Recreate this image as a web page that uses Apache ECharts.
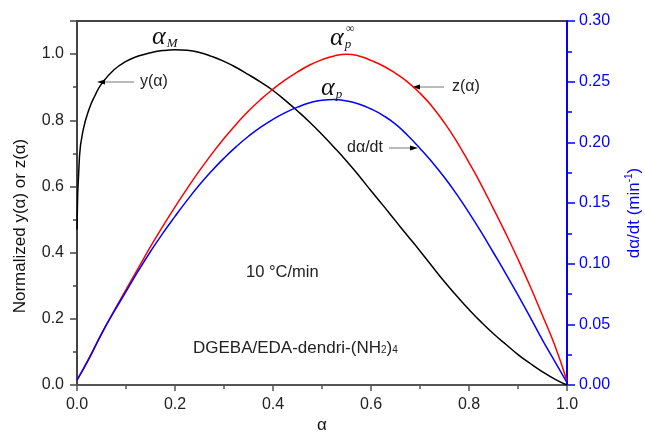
<!DOCTYPE html>
<html>
<head>
<meta charset="utf-8">
<script src="https://cdn.jsdelivr.net/npm/echarts@6/dist/echarts.min.js"></script>
<style>
  html, body { margin: 0; padding: 0; background: #fff; }
  #chart { width: 645px; height: 433px; }
</style>
</head>
<body>
<div id="chart"></div>
<script>
// Conversion alpha on the x axis
const xTicks = [0, 0.2, 0.4, 0.6, 0.8, 1.0];
const leftTicks = [0, 0.2, 0.4, 0.6, 0.8, 1.0];
const rightTicks = [0, 0.05, 0.10, 0.15, 0.20, 0.25, 0.30];

// y(alpha), normalized (left axis)
const yAlpha = [
  [0, 0.47], [0.005, 0.69], [0.0125, 0.77], [0.025, 0.835], [0.0375, 0.877],
  [0.05, 0.91], [0.075, 0.952], [0.1, 0.978], [0.125, 0.994], [0.15, 1.004],
  [0.175, 1.0105], [0.2, 1.013], [0.225, 1.0115], [0.25, 1.005], [0.275, 0.993],
  [0.3, 0.978], [0.325, 0.9595], [0.35, 0.938], [0.375, 0.915], [0.4, 0.89],
  [0.425, 0.86], [0.45, 0.828], [0.475, 0.794], [0.5, 0.757], [0.525, 0.718],
  [0.55, 0.677], [0.575, 0.633], [0.6, 0.587], [0.625, 0.542], [0.65, 0.496],
  [0.675, 0.4505], [0.7, 0.405], [0.725, 0.358], [0.75, 0.312], [0.775, 0.269],
  [0.8, 0.228], [0.825, 0.19], [0.85, 0.155], [0.875, 0.123], [0.9, 0.092],
  [0.925, 0.065], [0.95, 0.04], [0.975, 0.018], [1.0, 0]
];

// z(alpha), normalized (left axis)
const zAlpha = [
  [0, 0.015], [0.025, 0.083], [0.05, 0.155], [0.075, 0.2225], [0.1, 0.288],
  [0.125, 0.3534], [0.15, 0.418], [0.175, 0.4793], [0.2, 0.538], [0.225, 0.5943],
  [0.25, 0.648], [0.275, 0.6981], [0.3, 0.745], [0.325, 0.7883], [0.35, 0.828],
  [0.375, 0.863], [0.4, 0.894], [0.425, 0.9218], [0.45, 0.946], [0.475, 0.967],
  [0.5, 0.983], [0.525, 0.9945], [0.55, 0.9995], [0.575, 0.9945], [0.6, 0.981],
  [0.625, 0.964], [0.65, 0.942], [0.675, 0.9155], [0.7, 0.882], [0.725, 0.841],
  [0.75, 0.792], [0.775, 0.7355], [0.8, 0.672], [0.825, 0.605], [0.85, 0.532],
  [0.875, 0.458], [0.9, 0.38], [0.925, 0.2975], [0.95, 0.21], [0.975, 0.12],
  [1.0, 0.012]
];

// d(alpha)/dt in min^-1 (right axis)
const rate = [
  [0, 0.004], [0.025, 0.022], [0.05, 0.042], [0.075, 0.06], [0.1, 0.077],
  [0.125, 0.094], [0.15, 0.11], [0.175, 0.125], [0.2, 0.139], [0.225, 0.1524],
  [0.25, 0.165], [0.275, 0.1765], [0.3, 0.187], [0.325, 0.1965], [0.35, 0.205],
  [0.375, 0.2125], [0.4, 0.219], [0.425, 0.2245], [0.45, 0.229], [0.475, 0.2326],
  [0.5, 0.2347], [0.525, 0.2352], [0.55, 0.2341], [0.575, 0.2316], [0.6, 0.2275],
  [0.625, 0.2221], [0.65, 0.215], [0.675, 0.2056], [0.7, 0.195], [0.725, 0.1836],
  [0.75, 0.171], [0.775, 0.1571], [0.8, 0.142], [0.825, 0.126], [0.85, 0.109],
  [0.875, 0.0918], [0.9, 0.074], [0.925, 0.0557], [0.95, 0.037], [0.975, 0.0195],
  [1.0, 0.002]
];

const SANS = '"Liberation Sans", Arial, sans-serif';
const SERIF = '"Liberation Serif", "Times New Roman", serif';
const BLUE = '#0000ff';
const INK = '#222';

const chart = echarts.init(document.getElementById('chart'), null, { renderer: 'canvas' });

function arrow(x1, y1, x2, y2) {
  // shaft from (x1,y1) to the head at (x2,y2)
  const dir = Math.sign(x2 - x1);
  return {
    type: 'group',
    children: [
      { type: 'line', shape: { x1: x1, y1: y1, x2: x2 - dir * 6, y2: y2 },
        style: { stroke: '#777', lineWidth: 1 } },
      { type: 'polygon', shape: { points: [[x2, y2], [x2 - dir * 8, y2 - 2.5], [x2 - dir * 8, y2 + 2.5]] },
        style: { fill: '#000' } }
    ]
  };
}

function txt(x, y, text, extra) {
  return Object.assign({
    type: 'text', x: x, y: y,
    style: Object.assign({ text: text, font: '16px ' + SANS, fill: INK, align: 'left', verticalAlign: 'middle' },
      (extra && extra.style) || {})
  }, extra && extra.rotation !== undefined ? { rotation: extra.rotation } : {});
}

const greek = {
  a: { font: 'italic 26px ' + SERIF, fill: '#111' },
  s: { font: 'italic 13px ' + SERIF, fill: '#111', padding: [14, 0, 0, 1] }
};

const line = (name, data, axis, color) => ({
  name: name, type: 'line', yAxisIndex: axis, data: data, showSymbol: false,
  smooth: 0.5, lineStyle: { color: color, width: 1.5 }
});

const option = {
  animation: false,
  backgroundColor: '#fff',
  grid: { left: 77, right: 78, top: 21, bottom: 48, show: true, borderColor: '#444', borderWidth: 2 },
  xAxis: {
    type: 'value', min: 0, max: 1, interval: 0.2,
    axisLine: { lineStyle: { color: '#555', width: 2 } },
    axisTick: { show: true, inside: false, length: 6, lineStyle: { color: '#555', width: 1.5 } },
    minorTick: { show: true, splitNumber: 2, length: 4, lineStyle: { color: '#555', width: 1.5 } },
    splitLine: { show: false },
    axisLabel: { fontFamily: SANS, fontSize: 16, color: INK, margin: 12,
      formatter: v => xTicks.some(t => Math.abs(t - v) < 1e-9) ? v.toFixed(1) : '' }
  },
  yAxis: [
    {
      type: 'value', min: 0, max: 1.1, interval: 0.2, position: 'left',
      axisLine: { show: true, lineStyle: { color: '#444', width: 2 } },
      axisTick: { show: true, inside: false, length: 7, lineStyle: { color: '#444', width: 1.5 } },
      minorTick: { show: true, splitNumber: 2, length: 4, lineStyle: { color: '#444', width: 1.5 } },
      splitLine: { show: false },
      axisLabel: { fontFamily: SANS, fontSize: 16, color: INK, margin: 13, showMaxLabel: false,
        formatter: v => leftTicks.some(t => Math.abs(t - v) < 1e-9) ? v.toFixed(1) : '' }
    },
    {
      type: 'value', min: 0, max: 0.3, interval: 0.05, position: 'right',
      axisLine: { show: true, lineStyle: { color: BLUE, width: 2 } },
      axisTick: { show: true, inside: false, length: 8, lineStyle: { color: BLUE, width: 1.5 } },
      minorTick: { show: true, splitNumber: 2, length: 5, lineStyle: { color: BLUE, width: 1.5 } },
      splitLine: { show: false },
      axisLabel: { fontFamily: SANS, fontSize: 16, color: BLUE, margin: 12,
        formatter: v => rightTicks.some(t => Math.abs(t - v) < 1e-9) ? v.toFixed(2) : '' }
    }
  ],
  series: [
    line('y(α)', yAlpha, 0, '#000'),
    line('z(α)', zAlpha, 0, '#ff0000'),
    line('dα/dt', rate, 1, BLUE)
  ],
  graphic: [
    // axis titles
    txt(20, 226, 'Normalized y(α) or z(α)', { rotation: Math.PI / 2,
      style: { font: '17px ' + SANS, align: 'center', fill: '#111' } }),
    { type: 'text', x: 634, y: 213, rotation: Math.PI / 2,
      style: { text: '{m|dα/dt (min}{e|-1}{m|)}', align: 'center', verticalAlign: 'middle',
        rich: { m: { font: '17px ' + SANS, fill: BLUE }, e: { font: '10px ' + SANS, fill: BLUE, padding: [0, 0, 10, 0] } } } },
    txt(322, 425, 'α', { style: { font: '17px ' + SANS, align: 'center', fill: '#111' } }),

    // peak labels
    { type: 'text', x: 152, y: 37, style: { text: '{a|α}{s|M}', verticalAlign: 'middle', rich: greek } },
    { type: 'text', x: 330, y: 38, style: { text: '{a|α}{s|p}', verticalAlign: 'middle', rich: greek } },
    { type: 'text', x: 346, y: 29, style: { text: '∞', font: '12px ' + SERIF, fill: '#111', verticalAlign: 'middle' } },
    { type: 'text', x: 321, y: 88, style: { text: '{a|α}{s|p}', verticalAlign: 'middle', rich: greek } },

    // curve call-outs
    arrow(134, 82, 97, 82),
    txt(140, 82, 'y(α)'),
    arrow(444, 87, 412, 87),
    txt(452, 87, 'z(α)'),
    arrow(389, 148, 418, 148),
    txt(347, 148, 'dα/dt'),

    // condition notes
    txt(246, 272, '10 °C/min', { style: { font: '16.5px ' + SANS } }),
    { type: 'text', x: 193, y: 348,
      style: { text: '{m|DGEBA/EDA-dendri-(NH}{b|2}{m|)}{b|4}', verticalAlign: 'middle',
        rich: { m: { font: '17px ' + SANS, fill: INK }, b: { font: '10px ' + SANS, fill: INK, padding: [5, 0, 0, 0] } } } }
  ]
};

chart.setOption(option);
</script>
</body>
</html>
